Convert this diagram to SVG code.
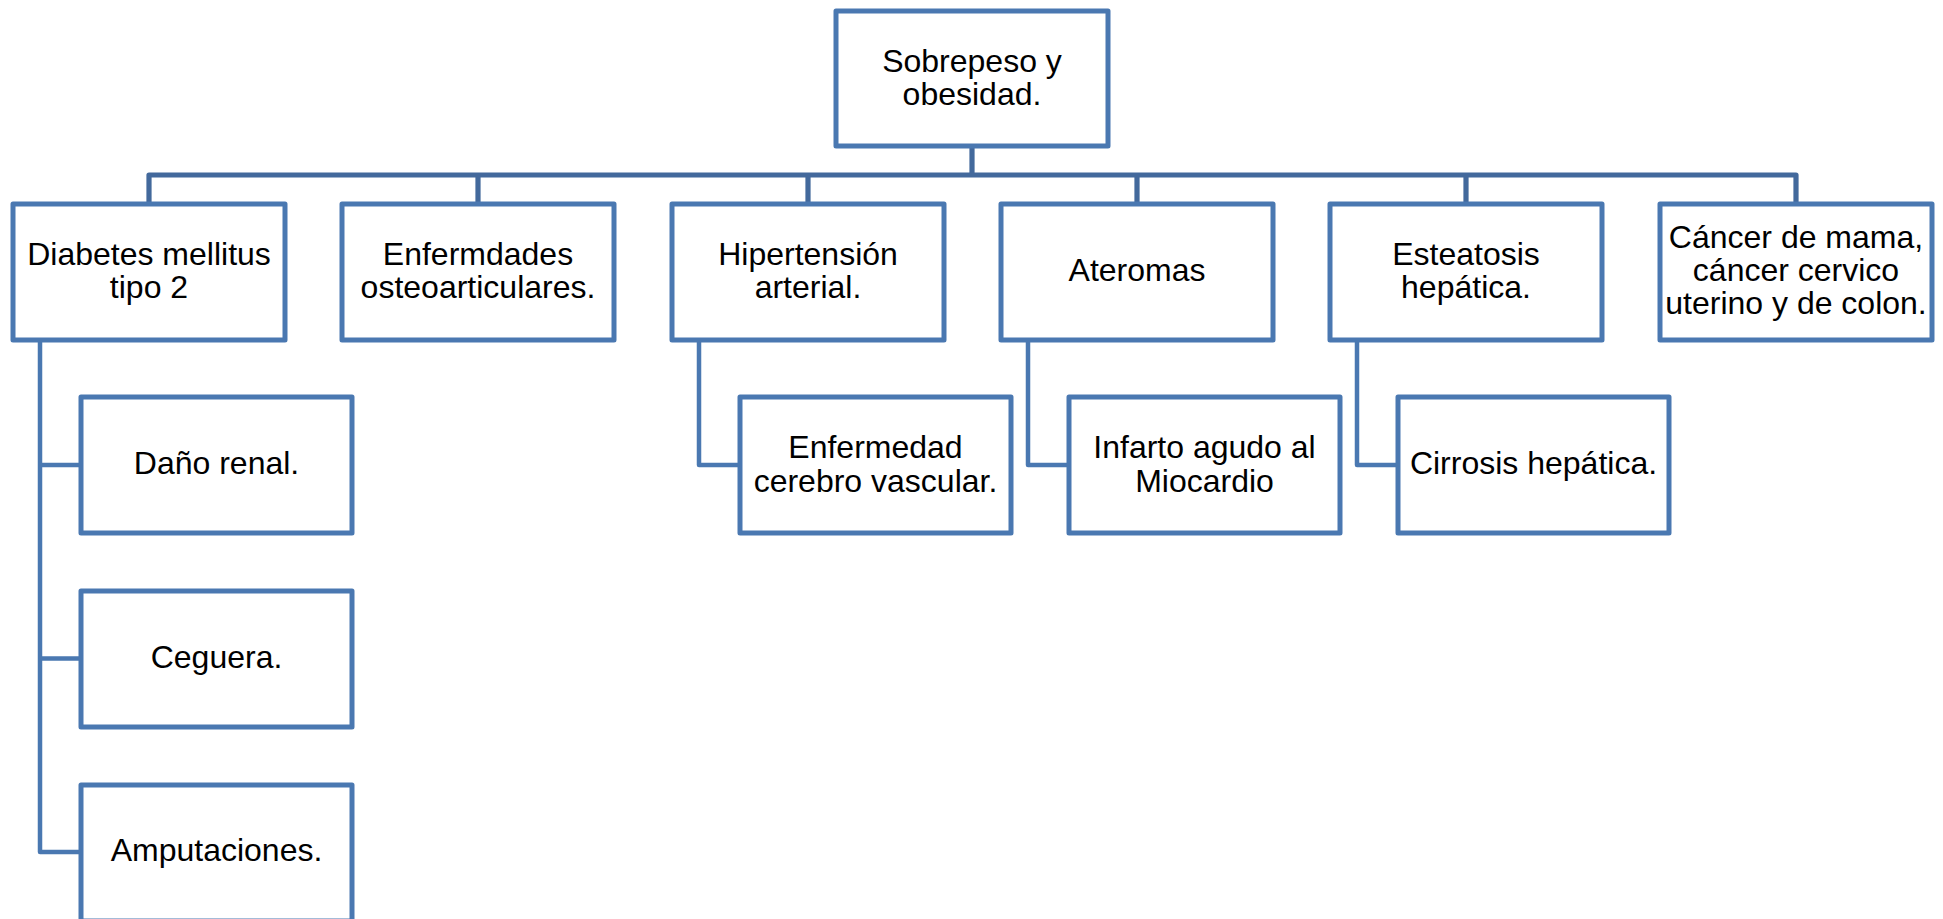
<svg xmlns="http://www.w3.org/2000/svg" width="1943" height="919" viewBox="0 0 1943 919">
<style>
.box{fill:#ffffff;stroke:#4A78B1;stroke-width:5;stroke-linejoin:round}
.trunk{fill:none;stroke:#43699C;stroke-width:5.2;stroke-linejoin:round}
.side{fill:none;stroke:#4A78B1;stroke-width:4.5;stroke-linejoin:round}
text{font-family:"Liberation Sans",Arial,sans-serif;font-size:32px;fill:#000000;text-anchor:middle}
</style>
<rect width="1943" height="919" fill="#ffffff"/>
<g id="connectors">
<path class="trunk" d="M972 146 V175 M149 204 V175 H1796 V204 M478 175 V204 M808 175 V204 M1137 175 V204 M1466 175 V204"/>
<path class="side" d="M40 340 V852 H81 M40 465 H81 M40 658.5 H81"/>
<path class="side" d="M699 340 V465 H740"/>
<path class="side" d="M1028 340 V465 H1069"/>
<path class="side" d="M1357 340 V465 H1398"/>
</g>
<g id="n-root"><rect class="box" x="836" y="11" width="272" height="135"/><text x="972" y="72">Sobrepeso y</text><text x="972" y="105">obesidad.</text></g>
<g id="n-diabetes"><rect class="box" x="13" y="204" width="272" height="136"/><text x="149" y="265">Diabetes mellitus</text><text x="149" y="298">tipo 2</text></g>
<g id="n-osteo"><rect class="box" x="342" y="204" width="272" height="136"/><text x="478" y="265">Enfermdades</text><text x="478" y="298">osteoarticulares.</text></g>
<g id="n-hiper"><rect class="box" x="672" y="204" width="272" height="136"/><text x="808" y="265">Hipertensión</text><text x="808" y="298">arterial.</text></g>
<g id="n-ateromas"><rect class="box" x="1001" y="204" width="272" height="136"/><text x="1137" y="281">Ateromas</text></g>
<g id="n-esteatosis"><rect class="box" x="1330" y="204" width="272" height="136"/><text x="1466" y="265">Esteatosis</text><text x="1466" y="298">hepática.</text></g>
<g id="n-cancer"><rect class="box" x="1660" y="204" width="272" height="136"/><text x="1796" y="248">Cáncer de mama,</text><text x="1796" y="281">cáncer cervico</text><text x="1796" y="314">uterino y de colon.</text></g>
<g id="n-renal"><rect class="box" x="81" y="397" width="271" height="136"/><text x="216.5" y="474">Daño renal.</text></g>
<g id="n-ceguera"><rect class="box" x="81" y="591" width="271" height="136"/><text x="216.5" y="668">Ceguera.</text></g>
<g id="n-amput"><rect class="box" x="81" y="785" width="271" height="136"/><text x="216.5" y="861">Amputaciones.</text></g>
<g id="n-cerebro"><rect class="box" x="740" y="397" width="271" height="136"/><text x="875.5" y="458">Enfermedad</text><text x="875.5" y="491.5">cerebro vascular.</text></g>
<g id="n-infarto"><rect class="box" x="1069" y="397" width="271" height="136"/><text x="1204.5" y="458">Infarto agudo al</text><text x="1204.5" y="491.5">Miocardio</text></g>
<g id="n-cirrosis"><rect class="box" x="1398" y="397" width="271" height="136"/><text x="1533.5" y="474">Cirrosis hepática.</text></g>
</svg>
